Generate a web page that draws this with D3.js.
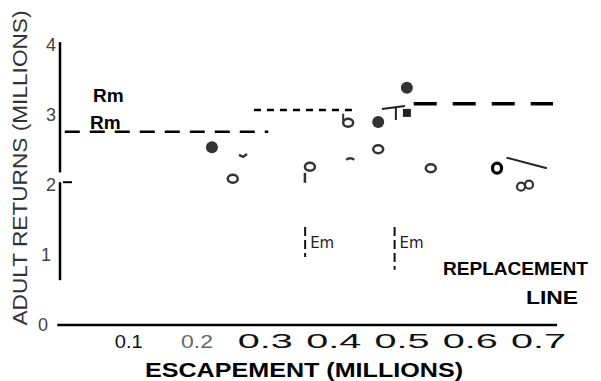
<!DOCTYPE html>
<html>
<head>
<meta charset="utf-8">
<script src="https://cdn.jsdelivr.net/npm/d3@7"></script>
<style>
  body { margin: 0; background: #fff; }
  svg { display: block; }
</style>
</head>
<body>
<script>
// size of the picture
var width = 601, height = 381;

// axis ticks
var xTicks = [0.1, 0.2, 0.3, 0.4, 0.5, 0.6, 0.7];
var yTicks = [0, 1, 2, 3, 4];

// escapement (millions), returns (millions)
var filledPts = [[0.2225, 2.54], [0.466, 2.90], [0.508, 3.39]];
var squarePts = [[0.508, 3.03]];
var openPts = [[0.253, 2.09], [0.366, 2.26], [0.466, 2.51], [0.543, 2.24], [0.422, 2.89]];
var boldOpenPts = [[0.640, 2.24]];
var pairPts = [[0.681, 1.99]];

// Rm levels: [x start, x end, returns]
var rmLow = [0.007, 0.305, 2.76];
var rmMid = [0.284, 0.428, 3.07];
var rmHigh = [0.518, 0.722, 3.16];

// Em markers: escapement, with top/bottom of the mark
var emX = [0.359, 0.490];
var emTop = [1.40, 1.40];
var emBottom = [0.97, 0.79];

// piece of the replacement line
var replaceSeg = [[0.654, 2.39], [0.713, 2.24]];

var svg = d3.select("body").append("svg")
    .attr("width", width)
    .attr("height", height);

var x = d3.scaleLinear().domain([0, 0.7]).range([60, 538]);
var y = d3.scaleLinear().domain([0, 4]).range([325, 45]);

// x axis
var xAxis = d3.axisBottom(x).tickValues(xTicks).tickSize(0).tickPadding(0)
    .tickFormat(d3.format(".1f"));
var xg = svg.append("g").attr("transform", "translate(0,348)").call(xAxis);
xg.select(".domain").remove();
xg.selectAll("text")
    .attr("dy", 0)
    .style("font-family", "Liberation Sans, Arial, sans-serif")
    .style("font-size", function(d) { return d < 0.25 ? "18px" : "20px"; })
    .attr("fill", function(d) { return Math.abs(d - 0.2) < 0.01 ? "#666" : "#111"; })
    .attr("textLength", function(d) { return d < 0.25 ? (d < 0.15 ? 28 : 32) : 55; })
    .attr("lengthAdjust", "spacingAndGlyphs");

svg.append("line")
    .attr("x1", x(-0.004)).attr("x2", x(0.728))
    .attr("y1", y(0)).attr("y2", y(0))
    .attr("stroke", "#000").attr("stroke-width", 2.5);

// y axis
var yAxis = d3.axisLeft(y).tickValues(yTicks).tickSize(0).tickPadding(0)
    .tickFormat(d3.format("d"));
var yg = svg.append("g").attr("transform", "translate(56,0)").call(yAxis);
yg.select(".domain").remove();
yg.selectAll("text")
    .style("font-family", "Liberation Sans, Arial, sans-serif")
    .style("font-size", "18px")
    .attr("fill", "#444")
    .attr("x", function(d) { return d === 0 ? -8 : d === 1 ? -5 : 0; });

// broken vertical axis line
svg.append("line").attr("x1", 60).attr("x2", 60)
    .attr("y1", y(4.04)).attr("y2", y(2.18))
    .attr("stroke", "#000").attr("stroke-width", 2.5);
svg.append("line").attr("x1", 60).attr("x2", 60)
    .attr("y1", y(2.04)).attr("y2", y(0.64))
    .attr("stroke", "#000").attr("stroke-width", 2.5);
svg.append("line").attr("x1", 63).attr("x2", 72)
    .attr("y1", y(2.04)).attr("y2", y(2.04))
    .attr("stroke", "#000").attr("stroke-width", 2);

// axis titles
svg.append("text")
    .attr("x", 304).attr("y", 377)
    .attr("text-anchor", "middle")
    .attr("textLength", 318).attr("lengthAdjust", "spacingAndGlyphs")
    .style("font-family", "Liberation Sans, Arial, sans-serif")
    .style("font-size", "21px").style("font-weight", "bold")
    .text("ESCAPEMENT (MILLIONS)");

svg.append("text")
    .attr("transform", "translate(27,168) rotate(-90)")
    .attr("text-anchor", "middle")
    .attr("textLength", 315).attr("lengthAdjust", "spacingAndGlyphs")
    .style("font-family", "Liberation Sans, Arial, sans-serif")
    .style("font-size", "20px")
    .attr("fill", "#333")
    .text("ADULT RETURNS (MILLIONS)");

// Rm lines
function hline(r, dash, sw) {
    svg.append("line")
        .attr("x1", x(r[0])).attr("x2", x(r[1]))
        .attr("y1", y(r[2])).attr("y2", y(r[2]))
        .attr("stroke", "#000").attr("stroke-width", sw)
        .attr("stroke-dasharray", dash);
}
hline(rmLow, "15,10", 2.5);
hline(rmMid, "7,6", 2.5);
hline(rmHigh, "23,16", 3.5);

svg.selectAll("text.rm")
    .data([[93, 102], [90, 129]])
    .enter().append("text")
    .attr("class", "rm")
    .attr("x", function(d) { return d[0]; })
    .attr("y", function(d) { return d[1]; })
    .style("font-family", "Liberation Sans, Arial, sans-serif")
    .style("font-size", "19px").style("font-weight", "bold")
    .text("Rm");

// Em marks
emX.forEach(function(e, i) {
    svg.append("line")
        .attr("x1", x(e)).attr("x2", x(e))
        .attr("y1", y(emTop[i])).attr("y2", y(emBottom[i]))
        .attr("stroke", "#111").attr("stroke-width", 2)
        .attr("stroke-dasharray", "9,4");
    svg.append("text")
        .attr("x", x(e) + 5).attr("y", y(emTop[i]) + 21)
        .style("font-family", "DejaVu Sans, sans-serif")
        .style("font-size", "15px")
        .attr("fill", "#222")
        .text("Em");
});

// replacement line piece
svg.append("line")
    .attr("x1", x(replaceSeg[0][0])).attr("y1", y(replaceSeg[0][1]))
    .attr("x2", x(replaceSeg[1][0])).attr("y2", y(replaceSeg[1][1]))
    .attr("stroke", "#222").attr("stroke-width", 2);

svg.append("text")
    .attr("x", 443).attr("y", 275)
    .attr("textLength", 145).attr("lengthAdjust", "spacingAndGlyphs")
    .style("font-family", "Liberation Sans, Arial, sans-serif")
    .style("font-size", "19px").style("font-weight", "bold")
    .text("REPLACEMENT");
svg.append("text")
    .attr("x", 526).attr("y", 304)
    .attr("textLength", 52).attr("lengthAdjust", "spacingAndGlyphs")
    .style("font-family", "Liberation Sans, Arial, sans-serif")
    .style("font-size", "19px").style("font-weight", "bold")
    .text("LINE");

// points
svg.selectAll("circle.filled")
    .data(filledPts)
    .enter().append("circle")
    .attr("class", "filled")
    .attr("cx", function(d) { return x(d[0]); })
    .attr("cy", function(d) { return y(d[1]); })
    .attr("r", 6)
    .attr("fill", "#333");

svg.selectAll("rect.sq")
    .data(squarePts)
    .enter().append("rect")
    .attr("class", "sq")
    .attr("x", function(d) { return x(d[0]) - 4; })
    .attr("y", function(d) { return y(d[1]) - 4; })
    .attr("width", 8).attr("height", 8)
    .attr("fill", "#222");

// the T mark next to it
svg.append("path")
    .attr("d", "M" + (x(squarePts[0][0]) - 25) + "," + (y(squarePts[0][1]) - 4) +
        "L" + (x(squarePts[0][0]) - 2) + "," + (y(squarePts[0][1]) - 7) +
        "M" + (x(squarePts[0][0]) - 11) + "," + (y(squarePts[0][1]) - 5) +
        "V" + (y(squarePts[0][1]) + 7))
    .attr("stroke", "#222").attr("stroke-width", 2).attr("fill", "none");

svg.selectAll("ellipse.open")
    .data(openPts.concat(boldOpenPts))
    .enter().append("ellipse")
    .attr("class", "open")
    .attr("cx", function(d) { return x(d[0]); })
    .attr("cy", function(d) { return y(d[1]); })
    .attr("rx", function(d, i) { return i >= openPts.length ? 4.5 : 5; })
    .attr("ry", function(d, i) { return i >= openPts.length ? 5 : 4; })
    .attr("fill", "none")
    .attr("stroke", function(d, i) { return i >= openPts.length ? "#000" : "#333"; })
    .attr("stroke-width", function(d, i) { return i >= openPts.length ? 3.2 : 2.5; });

// paired circles (the "8")
pairPts.forEach(function(d) {
    [-4, 4].forEach(function(off) {
        svg.append("circle")
            .attr("cx", x(d[0]) + off).attr("cy", y(d[1]) + (off > 0 ? -1 : 1))
            .attr("r", 4)
            .attr("fill", "none").attr("stroke", "#333").attr("stroke-width", 2.2);
    });
});

// small scraps
svg.append("line").attr("x1", x(0.366) - 5).attr("x2", x(0.366) - 5)
    .attr("y1", y(2.26) + 6).attr("y2", y(2.26) + 16)
    .attr("stroke", "#333").attr("stroke-width", 2.5);
svg.append("path")
    .attr("d", "M" + (x(0.425) - 4) + "," + y(2.36) + "q4,-3 8,0")
    .attr("stroke", "#333").attr("stroke-width", 2.5).attr("fill", "none");
svg.append("path")
    .attr("d", "M" + (x(0.268) - 4) + "," + y(2.43) + "l4,2 l4,-3")
    .attr("stroke", "#333").attr("stroke-width", 2.5).attr("fill", "none");
svg.append("line").attr("x1", x(0.422) - 5).attr("x2", x(0.422) - 5)
    .attr("y1", y(2.89) - 9).attr("y2", y(2.89) - 2)
    .attr("stroke", "#333").attr("stroke-width", 2);
</script>
</body>
</html>
